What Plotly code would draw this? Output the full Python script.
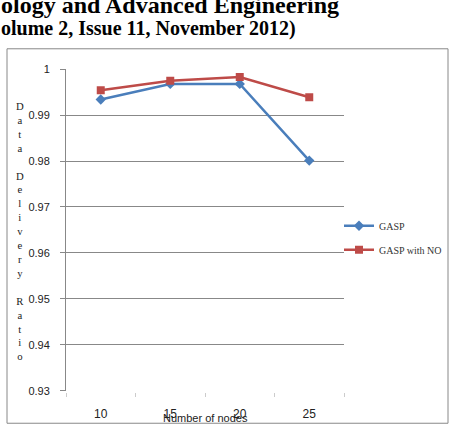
import plotly.graph_objects as go

W, H = 458, 438

nodes = ["10", "15", "20", "25"]
gasp = [0.9934, 0.9968, 0.9968, 0.9801]
gasp_no = [0.9954, 0.9975, 0.9983, 0.9939]
y_ticks = [0.93, 0.94, 0.95, 0.96, 0.97, 0.98, 0.99, 1.0]
y_tick_text = ["0.93", "0.94", "0.95", "0.96", "0.97", "0.98", "0.99", "1"]
y_title_letters = "Data Delivery Ratio"

def px_x(p):
    return p / W

def px_y(p):
    return 1 - p / H

fig = go.Figure()
fig.add_trace(go.Scatter(
    x=nodes, y=gasp, name="GASP", mode="lines+markers", legendgroup="a",
    line=dict(color="#4A7EBB", width=2.5),
    marker=dict(symbol="diamond", size=8, color="#4A7EBB"),
))
fig.add_trace(go.Scatter(
    x=nodes, y=gasp_no, name="GASP with NO", mode="lines+markers", legendgroup="b",
    line=dict(color="#BE4B48", width=2.5),
    marker=dict(symbol="square", size=8, color="#BE4B48"),
))

sans = "Liberation Sans"
serif = "Liberation Serif"

fig.update_layout(
    width=W, height=H,
    margin=dict(l=0, r=0, t=0, b=0),
    paper_bgcolor="white", plot_bgcolor="white",
    showlegend=True,
    legend=dict(x=px_x(339), y=px_y(211), xanchor="left", yanchor="top",
                font=dict(family=serif, size=10, color="#333"),
                itemwidth=30, tracegroupgap=5, bgcolor="rgba(0,0,0,0)"),
    xaxis=dict(
        type="category", domain=[px_x(66), px_x(344)],
        range=[-0.5, 3.5], tickson="boundaries",
        ticks="outside", ticklen=4, tickcolor="#ccc",
        showline=True, linecolor="white", linewidth=2,
        showgrid=False, zeroline=False,
        tickfont=dict(family=sans, size=12, color="#222"),
        ticklabelstandoff=11,
    ),
    yaxis=dict(
        domain=[px_y(395.5), px_y(65)],
        range=[0.93, 1.0], tickvals=y_ticks, ticktext=y_tick_text,
        ticks="outside", ticklen=5, tickcolor="#888",
        showgrid=True, gridcolor="#888", gridwidth=1,
        showline=True, linecolor="#888", linewidth=1,
        zeroline=False,
        tickfont=dict(family=sans, size=11, color="#222"),
        ticklabelstandoff=8,
    ),
)

# outer chart border
fig.add_shape(type="rect", xref="paper", yref="paper",
              x0=px_x(7), x1=px_x(448), y0=px_y(429), y1=px_y(44),
              line=dict(color="#888", width=1), layer="below")

# header text (cropped journal header)
fig.add_annotation(text="<b>ology and Advanced Engineering</b>",
                   xref="paper", yref="paper", x=px_x(-1), y=px_y(14),
                   xanchor="left", yanchor="bottom", showarrow=False,
                   font=dict(family=serif, size=24, color="black"))
fig.add_annotation(text="<b>olume 2, Issue 11, November 2012)</b>",
                   xref="paper", yref="paper", x=px_x(-1), y=px_y(23),
                   xanchor="left", yanchor="middle", showarrow=False,
                   font=dict(family=serif, size=20, color="black"))

# stacked vertical y title
stack = "<br>".join(ch for ch in y_title_letters)
fig.add_annotation(text=stack, xref="paper", yref="paper",
                   x=px_x(20), y=px_y(231), xanchor="center", yanchor="middle",
                   showarrow=False, align="center",
                   font=dict(family=serif, size=10.7, color="#222"))

# x title
fig.add_annotation(text="Number of nodes", xref="paper", yref="paper",
                   x=px_x(205), y=px_y(424), xanchor="center", yanchor="middle",
                   showarrow=False,
                   font=dict(family=sans, size=11, color="#222"))

fig.write_html("out.html")
